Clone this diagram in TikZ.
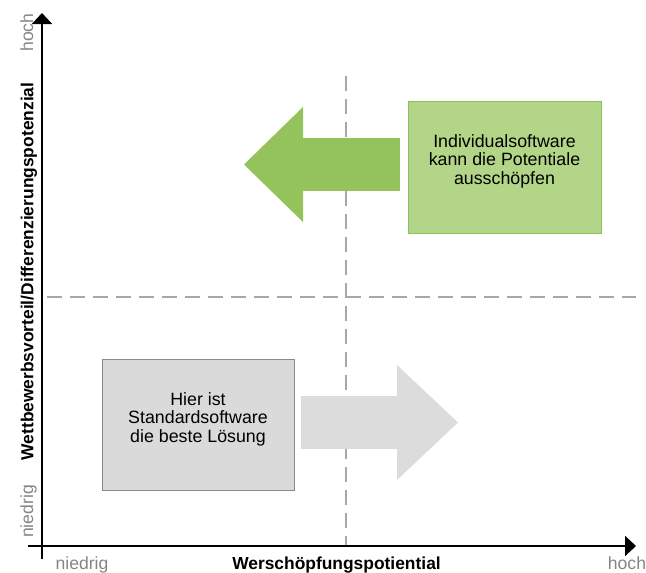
\documentclass[tikz,border=0pt]{standalone}
\usepackage{fontspec}
\setmainfont{Liberation Sans}
\usetikzlibrary{arrows.meta}
\definecolor{boxgreen}{HTML}{B3D588}
\definecolor{linegreen}{HTML}{8CC157}
\definecolor{arrowgreen}{HTML}{93C35A}
\definecolor{boxgrey}{HTML}{DADADA}
\definecolor{linegrey}{HTML}{8A8A8A}
\definecolor{arrowgrey}{HTML}{DCDCDC}
\definecolor{dashgrey}{HTML}{A8A8A8}
\definecolor{labelgrey}{HTML}{858585}

\begin{document}
\begin{tikzpicture}[x=1pt,y=-1pt,
	axisline/.style={line width=2pt, -{Triangle[length=11pt,width=20pt]}},
	gridline/.style={line width=2pt, color=dashgrey, dash pattern=on 15pt off 8pt},
	boxtext/.style={font=\fontsize{17.8}{18.5}\selectfont, align=center, inner sep=0pt},
	axislabel/.style={font=\fontsize{17.4}{20}\selectfont\bfseries, inner sep=0pt},
	scalelabel/.style={font=\fontsize{17.6}{20}\selectfont, color=labelgrey, inner sep=0pt}]
			%%%%% START %%%%%
			\useasboundingbox (0, 0) rectangle (646, 573);
			
			\draw[gridline] (345.5, 76) -- (345.5, 546);
			\draw[gridline] (47, 297) -- (636, 297);
			
			% Individualsoftware
			\node[draw=linegreen, fill=boxgreen, line width=1pt, minimum width=193pt, minimum height=132pt, inner sep=0pt] (indivbox) at (504.5, 167) {};
			\node[boxtext] (indivtext) at (504.5, 161) {Individualsoftware\\kann die Potentiale\\ausschöpfen};
			\fill[arrowgreen] (303, 138) rectangle (400, 191);
			\fill[arrowgreen] (303, 107) -- (244, 164.5) -- (303, 222) -- cycle;
			
			% Standardsoftware
			\node[draw=linegrey, fill=boxgrey, line width=1pt, minimum width=192pt, minimum height=131pt, inner sep=0pt] (stdbox) at (198, 424.5) {};
			\node[boxtext] (stdtext) at (198, 419) {Hier ist\\Standardsoftware\\die beste Lösung};
			\fill[arrowgrey] (301, 396) rectangle (397, 449);
			\fill[arrowgrey] (397, 365) -- (458, 422.5) -- (397, 480) -- cycle;
			
			% axes
			\draw[axisline] (42, 559) -- (42, 13);
			\draw[axisline] (28, 546) -- (636, 546);
			
			\node[scalelabel, rotate=90, anchor=base] (yhigh) at (33, 32.5) {hoch};
			\node[scalelabel, rotate=90, anchor=base] (ylow) at (33, 511.5) {niedrig};
			\node[axislabel, rotate=90, anchor=base] (ytitle) at (33.5, 271.5) {Wettbewerbsvorteil/Differenzierungspotenzial};
			
			\node[scalelabel, anchor=base] (xlow) at (82, 569.5) {niedrig};
			\node[axislabel, anchor=base] (xtitle) at (336.5, 569) {Werschöpfungspotiential};
			\node[scalelabel, anchor=base] (xhigh) at (627, 569.5) {hoch};
			%%%%% END %%%%%
\end{tikzpicture}
\end{document}
